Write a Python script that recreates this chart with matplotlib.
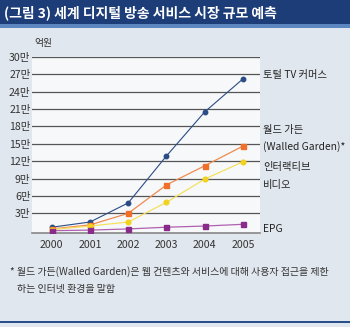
import matplotlib.pyplot as plt
import matplotlib.patches as patches

plt.rcParams['font.family'] = ['Noto Sans CJK KR', 'DejaVu Sans']

# 세계 디지털 방송 서비스 시장 규모 (단위: 만 억원)
years = [2000, 2001, 2002, 2003, 2004, 2005]
tv_commerce = [0.6, 1.5, 4.8, 12.9, 20.5, 26.2]
walled_garden = [0.3, 1.0, 3.0, 7.9, 11.2, 14.6]
interactive_video = [0.2, 0.8, 1.5, 4.9, 8.9, 11.9]
epg = [0.0, 0.1, 0.3, 0.6, 0.8, 1.1]

yticks = [3, 6, 9, 12, 15, 18, 21, 24, 27, 30]
ytick_labels = ['%d만' % v for v in yticks]

fig = plt.figure(figsize=(3.5, 3.27), dpi=100, facecolor='#e1e7ee')

# title band
fig.patches.append(patches.Rectangle((0, 1 - 24 / 327), 1, 24 / 327, transform=fig.transFigure,
                                     facecolor='#1d3d78', edgecolor='none', zorder=0))
fig.patches.append(patches.Rectangle((0, 1 - 28 / 327), 1, 4 / 327, transform=fig.transFigure,
                                     facecolor='#5b86c0', edgecolor='none', zorder=0))
fig.text(4 / 350, 1 - 13 / 327, '(그림 3) 세계 디지털 방송 서비스 시장 규모 예측', color='white',
         fontsize=10, fontweight='bold', va='center', ha='left')

# bottom rule
fig.patches.append(patches.Rectangle((0, 4 / 327), 1, 2 / 327, transform=fig.transFigure,
                                     facecolor='#2a4f8c', edgecolor='none', zorder=0))

ax = fig.add_axes([32 / 350, 1 - 233 / 327, 228 / 350, 176 / 327])
ax.set_facecolor('#f6f8fa')

ax.plot(years, tv_commerce, color='#2c4c86', lw=0.8, marker='o', ms=3.2, zorder=4)
ax.plot(years, walled_garden, color='#f08a50', lw=0.9, marker='s', ms=3.6,
        mfc='#f0702a', mec='#f0702a', zorder=4)
ax.plot(years, interactive_video, color='#f5e060', lw=0.9, marker='o', ms=3.4,
        mfc='#f2d220', mec='#f2d220', zorder=4)
ax.plot(years, epg, color='#b060b0', lw=0.9, marker='s', ms=3.6,
        mfc='#8a2a8a', mec='#8a2a8a', zorder=4)

ax.set_xlim(1999.48, 2005.45)
ax.set_ylim(-0.4, 30)
ax.set_yticks(yticks)
ax.set_yticklabels(ytick_labels)
ax.set_xticks(years)
ax.tick_params(axis='both', length=0, labelsize=7.6, colors='#333333')
ax.tick_params(axis='x', pad=5)
ax.tick_params(axis='y', pad=1)
ax.grid(axis='y', color='#555555', lw=0.9)
ax.set_axisbelow(True)
for side in ['left', 'right', 'top']:
    ax.spines[side].set_visible(False)
ax.spines['bottom'].set_color('#888888')
ax.spines['bottom'].set_linewidth(1.2)

ax.text(0.01, 1.08, '억원', transform=ax.transAxes, fontsize=7, color='#333333',
        ha='left', va='center')

# series labels on the right
labels = [('토털 TV 커머스', 75), ('월드 가든', 130), ('(Walled Garden)*', 147),
          ('인터랙티브', 167), ('비디오', 185), ('EPG', 229)]
for text, ypix in labels:
    fig.text(263 / 350, 1 - ypix / 327, text, fontsize=7.4, color='#222222',
             ha='left', va='center')

# footnote
fig.text(10 / 350, 1 - 272 / 327, '* 월드 가든(Walled Garden)은 웹 컨텐츠와 서비스에 대해 사용자 접근을 제한',
         fontsize=7.2, color='#333333', style='italic', ha='left', va='center')
fig.text(17 / 350, 1 - 289 / 327, '하는 인터넷 환경을 말함',
         fontsize=7.2, color='#333333', style='italic', ha='left', va='center')

fig.savefig('out.png', dpi=100, facecolor=fig.get_facecolor())
